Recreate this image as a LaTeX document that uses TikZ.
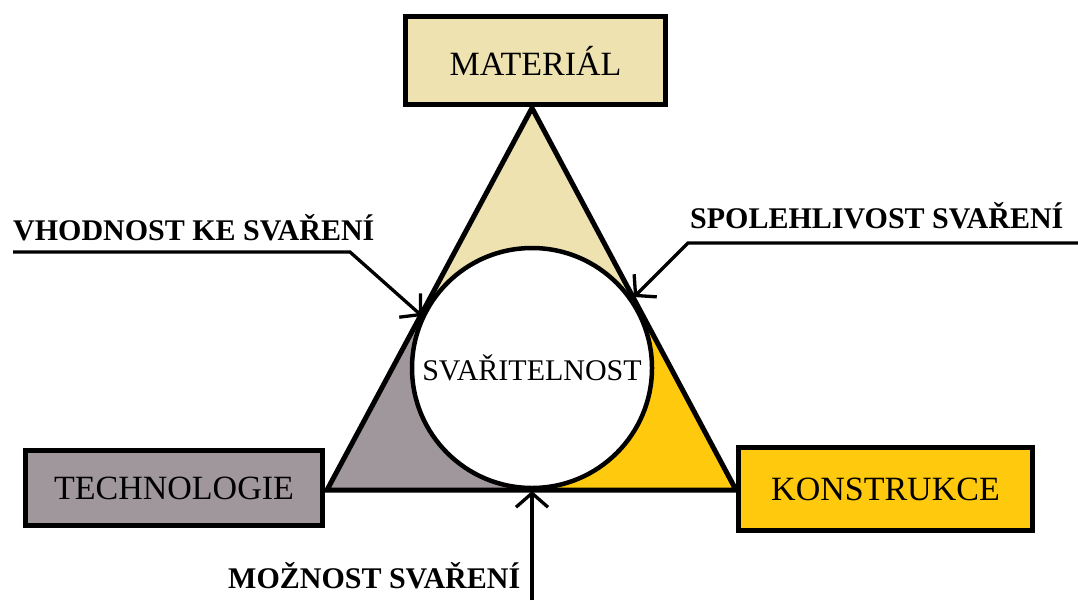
\documentclass[tikz,border=0pt]{standalone}
\usepackage{fontspec}
\setmainfont{Liberation Serif}
\usetikzlibrary{arrows.meta,calc}
\definecolor{matcol}{RGB}{238,226,176}
\definecolor{techcol}{RGB}{160,151,156}
\definecolor{koncol}{RGB}{255,201,14}
\begin{document}
\begin{tikzpicture}[x=1pt,y=-1pt,
  box/.style={draw, line width=5pt, inner sep=0pt, font=\fontsize{34}{40}\selectfont},
  lbl/.style={anchor=base west, inner sep=0pt, font=\fontsize{30}{36}\selectfont\bfseries},
  arr/.style={line width=3.3pt, -{Straight Barb[length=14pt,width=32pt]}}]
\useasboundingbox (0,0) rectangle (1078,600);
\coordinate (top) at (532,108);
\coordinate (bl) at (327,490);
\coordinate (br) at (736,490);
\coordinate (cen) at (532,368);
\coordinate (tl) at ($(top)!(cen)!(bl)$);
\coordinate (tr) at ($(top)!(cen)!(br)$);
\coordinate (tb) at ($(bl)!(cen)!(br)$);
\fill[matcol] (top) -- (tl) -- (cen) -- (tr) -- cycle;
\fill[techcol] (bl) -- (tl) -- (cen) -- (tb) -- cycle;
\fill[koncol] (br) -- (tr) -- (cen) -- (tb) -- cycle;
\draw[line width=5pt] (top) -- (bl) -- (br) -- cycle;
\node[circle, draw, fill=white, line width=4.5pt, minimum size=240pt, inner sep=0pt, font=\fontsize{30}{36}\selectfont] (svar) at (cen) {SVAŘITELNOST};

\node[box, fill=matcol, minimum width=260pt, minimum height=88pt] (mat) at (535.5,60.5) {MATERIÁL\hspace{8pt}};
\node[box, fill=techcol, minimum width=297pt, minimum height=75pt] (tech) at (174,488) {TECHNOLOGIE};
\node[box, fill=koncol, minimum width=294pt, minimum height=83pt] (kon) at (885.5,489) {KONSTRUKCE};

\node[lbl] (vhod) at (13,240) {VHODNOST KE SVAŘENÍ};
\coordinate (v0) at (13,252);
\coordinate (v1) at (350,252);
\coordinate (vtip) at (422,316);
\draw[arr] (v0) -- (v1) -- (vtip);
\node[lbl] (spol) at (690,228) {SPOLEHLIVOST SVAŘENÍ};
\coordinate (s0) at (1078,243);
\coordinate (s1) at (688,243);
\coordinate (stip) at (634,297);
\draw[arr] (s0) -- (s1) -- (stip);
\node[lbl] (mozn) at (228,588) {MOŽNOST SVAŘENÍ};
\coordinate (m0) at (532,600);
\coordinate (mtip) at (532,491);
\draw[arr] (m0) -- (mtip);
\end{tikzpicture}
\end{document}
